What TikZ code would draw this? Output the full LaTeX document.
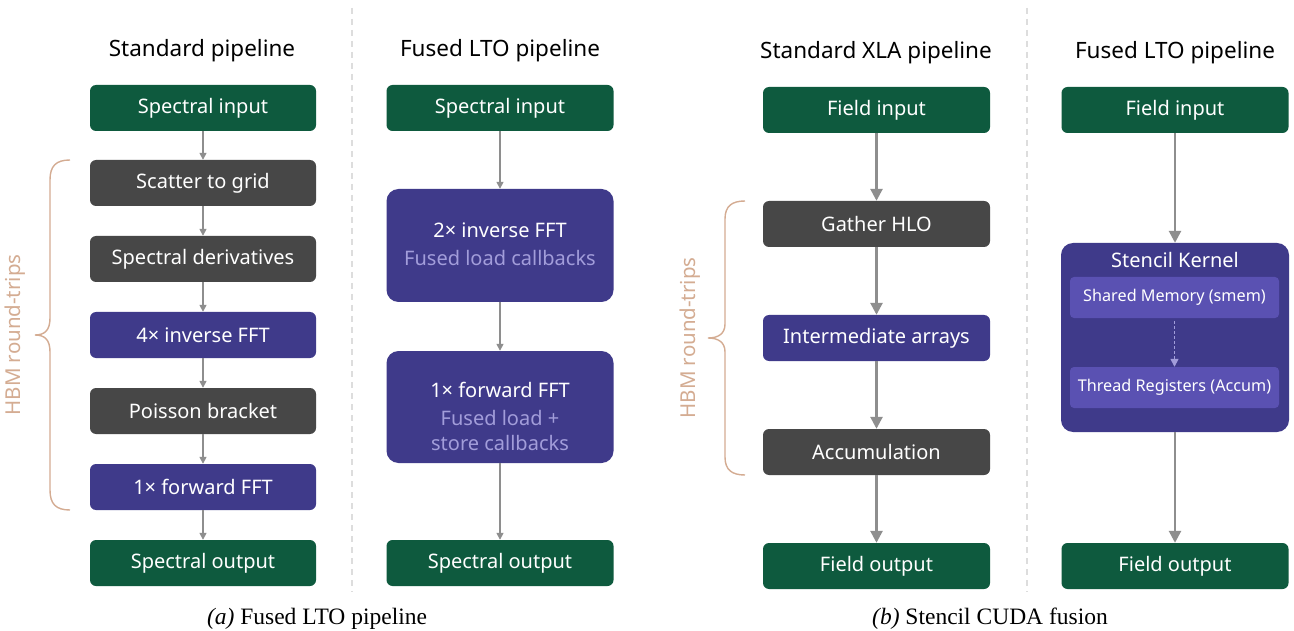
\documentclass[tikz,border=0pt]{standalone}
\usepackage{fontspec}
\setmainfont{Noto Sans}
\newfontfamily\capfont{Liberation Serif}
\usetikzlibrary{arrows.meta}
\definecolor{cgreen}{HTML}{0E5A3E}
\definecolor{cgray}{HTML}{474747}
\definecolor{cpurple}{HTML}{3F3A8A}
\definecolor{cinner}{HTML}{5A51B2}
\definecolor{csub}{HTML}{A29DDA}
\definecolor{carrow}{HTML}{8E8E8E}
\definecolor{cbrace}{HTML}{D4AC92}
\definecolor{cdiv}{HTML}{DDDDDD}
\tikzset{
  box/.style={rounded corners=6pt, minimum height=46pt, text=white, font=\fontsize{20}{24}\selectfont, inner sep=0pt, align=center},
  boxa/.style={box, minimum width=226pt},
  boxb/.style={box, minimum width=227pt},
  gbox/.style={fill=cgreen},
  dbox/.style={fill=cgray},
  pbox/.style={fill=cpurple},
  bigbox/.style={box, fill=cpurple, rounded corners=12pt, minimum width=227pt, font=\fontsize{20}{28}\selectfont},
  bigtext/.style={text=white, align=center, inner sep=0pt, font=\fontsize{20}{28}\selectfont},
  titletext/.style={font=\fontsize{22.5}{26}\selectfont, text=black},
  arra/.style={draw=carrow, line width=1.5pt, -{Triangle[length=7pt,width=7pt]}},
  arrb/.style={draw=carrow, line width=2.6pt, -{Triangle[length=12pt,width=12pt]}},
  bracepath/.style={draw=cbrace, line width=1.4pt},
  bracetext/.style={text=cbrace, font=\fontsize{20.5}{24}\selectfont, rotate=90},
  divider/.style={draw=cdiv, line width=1.2pt, dash pattern=on 6pt off 5pt},
  captext/.style={font=\capfont\fontsize{23.5}{27}\selectfont},
  innerbox/.style={fill=cinner, rounded corners=4pt, minimum width=209pt, minimum height=41pt, text=white, font=\fontsize{16.2}{19}\selectfont, inner sep=0pt},
}
\begin{document}
\begin{tikzpicture}[x=1pt,y=-1pt]
\useasboundingbox (0,0) rectangle (1294,631);
\fill[white] (0,0) rectangle (1294,631);
% dividers
\draw[divider] (352,8) -- (352,592);
\draw[divider] (1027,8) -- (1027,592);
% titles
\node[titletext] (t1) at (202,51) {Standard pipeline};
\node[titletext] (t2) at (500,51) {Fused LTO pipeline};
\node[titletext] (t3) at (876,53) {Standard XLA pipeline};
\node[titletext] (t4) at (1175,53) {Fused LTO pipeline};
% column 1
\node[boxa,gbox] (a1) at (203,108) {Spectral input};
\node[boxa,dbox] (a2) at (203,183) {Scatter to grid};
\node[boxa,dbox] (a3) at (203,259) {Spectral derivatives};
\node[boxa,pbox] (a4) at (203,335) {4× inverse FFT};
\node[boxa,dbox] (a5) at (203,411) {Poisson bracket};
\node[boxa,pbox] (a6) at (203,487) {1× forward FFT};
\node[boxa,gbox] (a7) at (203,563) {Spectral output};
\foreach \i/\j in {a1/a2,a2/a3,a3/a4,a4/a5,a5/a6,a6/a7} \draw[arra] (\i) -- (\j);
% brace 1
\draw[bracepath] (70,160) .. controls (56,160) and (50,166) .. (50,180) -- (50,318) .. controls (50,330) and (45,335) .. (35,335) .. controls (45,335) and (50,340) .. (50,352) -- (50,490) .. controls (50,504) and (56,510) .. (70,510);
\node[bracetext] (hb1) at (15,335) {HBM round-trips};
% column 2
\node[boxb,gbox] (b1) at (500,108) {Spectral input};
\node[bigbox, minimum height=113pt] (b2) at (500,245.5) {};
\node[bigtext] (b2t) at (500,244) {2× inverse FFT\\{\color{csub}Fused load callbacks}};
\node[bigbox, minimum height=112pt] (b3) at (500,407) {};
\node[bigtext] (b3t) at (500,416) {1× forward FFT\\{\color{csub}Fused load +}\\[-3pt]{\color{csub}store callbacks}};
\node[boxb,gbox] (b4) at (500,563) {Spectral output};
\foreach \i/\j in {b1/b2,b2/b3,b3/b4} \draw[arra] (\i) -- (\j);
% column 3
\node[boxb,gbox] (c1) at (876.5,110) {Field input};
\node[boxb,dbox] (c2) at (876.5,224) {Gather HLO};
\node[boxb,pbox] (c3) at (876.5,338) {Intermediate arrays};
\node[boxb,dbox] (c4) at (876.5,452) {Accumulation};
\node[boxb,gbox] (c5) at (876.5,566) {Field output};
\foreach \i/\j in {c1/c2,c2/c3,c3/c4,c4/c5} \draw[arrb] (\i) -- (\j);
% brace 2
\draw[bracepath] (745,201) .. controls (732,201) and (725,206) .. (725,219) -- (725,324) .. controls (725,334) and (718,338) .. (708,338) .. controls (718,338) and (725,342) .. (725,352) -- (725,457) .. controls (725,470) and (732,475) .. (745,475);
\node[bracetext] (hb2) at (690,338) {HBM round-trips};
% column 4
\node[boxb,gbox] (d1) at (1175,110) {Field input};
\node[fill=cpurple, rounded corners=12pt, minimum width=228pt, minimum height=189pt, inner sep=0pt] (d2) at (1175,337.5) {};
\node[text=white, font=\fontsize{20}{24}\selectfont] (d2t) at (1175,260) {Stencil Kernel};
\node[innerbox] (d3) at (1174.5,297.5) {Shared Memory (smem)};
\node[innerbox] (d4) at (1174.5,387.5) {Thread Registers (Accum)};
\node[boxb,gbox] (d5) at (1175,566) {Field output};
\draw[arrb] (d1) -- (d2);
\draw[arrb] (d2) -- (d5);
\draw[draw=csub, line width=1.5pt, dash pattern=on 3pt off 2pt, shorten <=3pt, -{Triangle[length=8pt,width=8pt]}] (d3) -- (d4);
% captions
\node[captext] (capa) at (317,619) {\textit{(a)} Fused LTO pipeline};
\node[captext] (capb) at (990,619) {\textit{(b)} Stencil CUDA fusion};
\end{tikzpicture}
\end{document}
